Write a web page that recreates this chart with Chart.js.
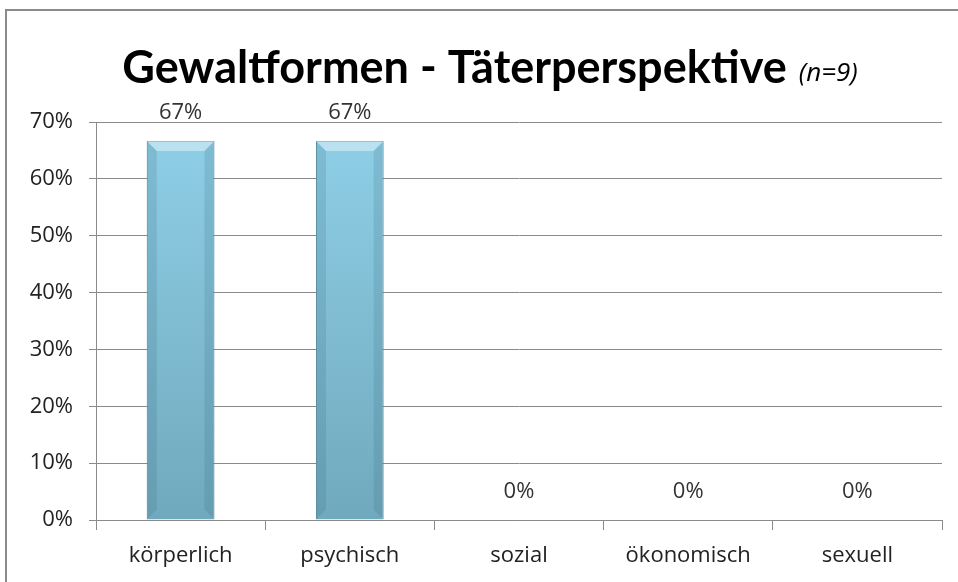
<!DOCTYPE html>
<html>
<head>
<meta charset="utf-8">
<script src="https://cdn.jsdelivr.net/npm/chart.js@4"></script>
<style>
  body { margin: 0; background: #fff; }
  #wrap { width: 958px; height: 582px; }
</style>
</head>
<body>
<div id="wrap"><canvas id="myChart" width="958" height="582"></canvas></div>
<script>
var categories = ["körperlich", "psychisch", "sozial", "ökonomisch", "sexuell"];
var values = [66.67, 66.67, 0, 0, 0];
var yTicks = [0, 10, 20, 30, 40, 50, 60, 70];
var titleMain = "Gewaltformen - Täterperspektive";
var titleNote = "(n=9)";

var TITLE_FONT = "Lato, 'Open Sans', sans-serif";
var FONT = "'Open Sans', Lato, sans-serif";

// frame + title
var framePlugin = {
  id: "frame",
  beforeDraw: function (chart) {
    var ctx = chart.ctx;
    ctx.save();
    ctx.strokeStyle = "#8a8a8a";
    ctx.lineWidth = 2;
    ctx.strokeRect(6, 10, 960, 600);
    ctx.restore();
  },
  afterDraw: function (chart) {
    var ctx = chart.ctx;
    ctx.save();
    ctx.fillStyle = "#000";
    ctx.textBaseline = "alphabetic";
    ctx.font = "bold 45px " + TITLE_FONT;
    var w1 = ctx.measureText(titleMain).width;
    ctx.font = "italic 26px " + FONT;
    var w2 = ctx.measureText(titleNote).width;
    var gap = 12;
    var x = 490 - (w1 + gap + w2) / 2;
    ctx.font = "bold 45px " + TITLE_FONT;
    ctx.fillText(titleMain, x, 83);
    ctx.font = "italic 26px " + FONT;
    ctx.fillText(titleNote, x + w1 + gap, 81);
    ctx.restore();
  }
};

// value labels + bevel on bars
var barLabels = {
  id: "barLabels",
  afterDatasetsDraw: function (chart) {
    var ctx = chart.ctx;
    var meta = chart.getDatasetMeta(0);
    ctx.save();
    meta.data.forEach(function (bar, i) {
      var v = values[i];
      if (v > 0) {
        var half = bar.width / 2;
        var top = bar.y, bottom = bar.base;
        var b = 10;
        // top bevel
        ctx.fillStyle = "rgba(255,255,255,0.4)";
        ctx.beginPath();
        ctx.moveTo(bar.x - half, top);
        ctx.lineTo(bar.x + half, top);
        ctx.lineTo(bar.x + half - b, top + b);
        ctx.lineTo(bar.x - half + b, top + b);
        ctx.closePath();
        ctx.fill();
        // side shading
        ctx.fillStyle = "rgba(40,90,110,0.15)";
        ctx.beginPath();
        ctx.moveTo(bar.x - half, top);
        ctx.lineTo(bar.x - half + b, top + b);
        ctx.lineTo(bar.x - half + b, bottom - b);
        ctx.lineTo(bar.x - half, bottom);
        ctx.closePath();
        ctx.fill();
        ctx.beginPath();
        ctx.moveTo(bar.x + half, top);
        ctx.lineTo(bar.x + half - b, top + b);
        ctx.lineTo(bar.x + half - b, bottom - b);
        ctx.lineTo(bar.x + half, bottom);
        ctx.closePath();
        ctx.fill();
      }
      ctx.fillStyle = "#333";
      ctx.font = "22px " + FONT;
      ctx.textAlign = "center";
      ctx.textBaseline = "middle";
      ctx.fillText(Math.round(v) + "%", bar.x, bar.y - 28);
    });
    ctx.restore();
  }
};

new Chart("myChart", {
  type: "bar",
  data: {
    labels: categories,
    datasets: [{
      data: values,
      backgroundColor: function (c) {
        var area = c.chart.chartArea;
        if (!area) return "#86c6dc";
        var g = c.chart.ctx.createLinearGradient(0, area.top, 0, area.bottom);
        g.addColorStop(0, "#8fd0e8");
        g.addColorStop(1, "#70a9bd");
        return g;
      },
      borderColor: "#5e95a8",
      borderWidth: 1,
      categoryPercentage: 1,
      barPercentage: 0.4
    }]
  },
  options: {
    responsive: false,
    animation: false,
    layout: { padding: { top: 122, right: 16, left: 0, bottom: 0 } },
    plugins: {
      legend: { display: false },
      tooltip: { enabled: false }
    },
    scales: {
      x: {
        offset: true,
        grid: { offset: true, drawOnChartArea: false, drawTicks: true, tickLength: 10, color: "#8a8a8a" },
        border: { color: "#8a8a8a" },
        ticks: { color: "#222", font: { family: FONT, size: 22 }, padding: 13 },
        afterFit: function (s) { s.height = 62; }
      },
      y: {
        min: 0,
        max: 70,
        afterBuildTicks: function (s) { s.ticks = yTicks.map(function (v) { return { value: v }; }); },
        grid: { color: "#8a8a8a", tickLength: 7 },
        border: { color: "#8a8a8a" },
        ticks: {
          color: "#222",
          font: { family: FONT, size: 22 },
          padding: 16,
          callback: function (v) { return v + "%"; }
        },
        afterFit: function (s) { s.width = 96; }
      }
    }
  },
  plugins: [framePlugin, barLabels]
});
</script>
</body>
</html>
